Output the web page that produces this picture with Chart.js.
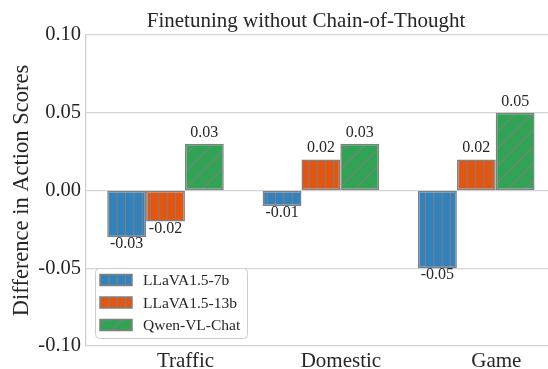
<!DOCTYPE html>
<html>
<head>
<meta charset="utf-8">
<script src="https://cdn.jsdelivr.net/npm/chart.js@4"></script>
<style>
  html, body { margin: 0; padding: 0; background: #ffffff; overflow: hidden; }
  canvas { display: block; }
</style>
</head>
<body>
<canvas id="chart" width="548" height="369"></canvas>
<script>
// Categories and per-model score differences
const categories = ['Traffic', 'Domestic', 'Game'];
const seriesNames = ['LLaVA1.5-7b', 'LLaVA1.5-13b', 'Qwen-VL-Chat'];
const llava7b = [-0.03, -0.01, -0.05];
const llava13b = [-0.02, 0.02, 0.02];
const qwenVlChat = [0.03, 0.03, 0.05];
const yTicks = [-0.10, -0.05, 0.00, 0.05, 0.10];

const SERIF = "'Liberation Serif', 'Times New Roman', serif";
const TEXT = '#262626';
const EDGE = '#808080';

Chart.defaults.font.family = SERIF;
Chart.defaults.color = TEXT;

// Hatched fills: vertical stripes and forward diagonals
function hatchVertical(color) {
  const s = 25;
  const c = document.createElement('canvas');
  c.width = s; c.height = s;
  const g = c.getContext('2d');
  g.fillStyle = color; g.fillRect(0, 0, s, s);
  g.strokeStyle = EDGE; g.lineWidth = 1.1;
  for (let k = 0; k < 3; k++) {
    const x = k * s / 3 + 0.5;
    g.beginPath(); g.moveTo(x, 0); g.lineTo(x, s); g.stroke();
  }
  return g.createPattern(c, 'repeat');
}
function hatchDiagonal(color) {
  const s = 17;
  const c = document.createElement('canvas');
  c.width = s; c.height = s;
  const g = c.getContext('2d');
  g.fillStyle = color; g.fillRect(0, 0, s, s);
  g.strokeStyle = EDGE; g.lineWidth = 1.1;
  for (const o of [-s, 0, s]) {
    g.beginPath(); g.moveTo(o, s); g.lineTo(o + s, 0); g.stroke();
  }
  return g.createPattern(c, 'repeat');
}

const fills = [hatchVertical('#3182bd'), hatchVertical('#e6550d'), hatchDiagonal('#31a354')];
const seriesValues = [llava7b, llava13b, qwenVlChat];

const datasets = seriesValues.map((vals, d) => ({
  label: seriesNames[d],
  data: vals.map((v, i) => ({ x: i, y: v })),
  backgroundColor: fills[d],
  borderColor: EDGE,
  borderWidth: 1.5,
  borderSkipped: false,
  categoryPercentage: 0.75,
  barPercentage: 1.0
}));

// Chart title drawn above the plot
const titlePlugin = {
  id: 'plotTitle',
  afterDraw(chart) {
    const ctx = chart.ctx;
    ctx.save();
    ctx.font = '21px ' + SERIF;
    ctx.fillStyle = TEXT;
    ctx.textAlign = 'center';
    ctx.textBaseline = 'alphabetic';
    ctx.fillText('Finetuning without Chain-of-Thought', 306, 27);
    ctx.restore();
  }
};

// Value labels above positive bars, below negative bars
const valueLabels = {
  id: 'valueLabels',
  afterDatasetsDraw(chart) {
    const ctx = chart.ctx;
    ctx.save();
    ctx.font = '16px ' + SERIF;
    ctx.fillStyle = TEXT;
    ctx.textAlign = 'center';
    chart.data.datasets.forEach((ds, d) => {
      chart.getDatasetMeta(d).data.forEach((bar, i) => {
        const v = ds.data[i].y;
        const txt = v.toFixed(2);
        if (v >= 0) {
          ctx.textBaseline = 'alphabetic';
          ctx.fillText(txt, bar.x, bar.y - 7);
        } else {
          ctx.textBaseline = 'top';
          ctx.fillText(txt, bar.x, bar.y - 1);
        }
      });
    });
    ctx.restore();
  }
};

// Framed legend in the lower-left corner of the plot
const boxLegend = {
  id: 'boxLegend',
  afterDraw(chart) {
    const ctx = chart.ctx;
    const a = chart.chartArea;
    const x0 = a.left + 9, y1 = a.bottom - 8;
    const w = 152, h = 70, y0 = y1 - h;
    ctx.save();
    ctx.beginPath();
    ctx.roundRect(x0 + 0.5, y0 + 0.5, w, h, 4);
    ctx.fillStyle = 'rgba(255,255,255,0.85)';
    ctx.fill();
    ctx.strokeStyle = '#cccccc';
    ctx.lineWidth = 1;
    ctx.stroke();
    ctx.font = '15.5px ' + SERIF;
    ctx.textAlign = 'left';
    ctx.textBaseline = 'middle';
    chart.data.datasets.forEach((ds, d) => {
      const cy = y0 + 12 + d * 22.5;
      ctx.fillStyle = ds.backgroundColor;
      ctx.fillRect(x0 + 5, cy - 5.5, 32, 11);
      ctx.strokeStyle = EDGE;
      ctx.lineWidth = 1.5;
      ctx.strokeRect(x0 + 5, cy - 5.5, 32, 11);
      ctx.fillStyle = TEXT;
      ctx.fillText(ds.label, x0 + 48, cy + 1);
    });
    ctx.restore();
  }
};

new Chart(document.getElementById('chart'), {
  type: 'bar',
  data: { datasets },
  options: {
    responsive: false,
    animation: false,
    layout: { padding: { top: 35, left: 0, right: 0, bottom: 0 } },
    plugins: { legend: { display: false }, tooltip: { enabled: false } },
    scales: {
      x: {
        type: 'linear',
        offset: false,
        min: -0.5116,
        max: 2.4614,
        grid: { display: false, drawTicks: false },
        border: { display: false },
        afterBuildTicks: (scale) => { scale.ticks = categories.map((_, i) => ({ value: i })); },
        afterFit: (scale) => { scale.height = 23; },
        ticks: {
          autoSkip: false,
          maxRotation: 0,
          padding: 3,
          labelOffset: 20,
          font: { size: 21 },
          color: TEXT,
          callback: (v) => categories[v]
        }
      },
      y: {
        min: -0.10,
        max: 0.10,
        afterBuildTicks: (scale) => { scale.ticks = yTicks.map(v => ({ value: v })); },
        afterFit: (scale) => { scale.width = 86; },
        grid: { color: '#d4d4d4', lineWidth: 1.2, drawTicks: false },
        border: { display: true, color: '#cccccc', width: 1.2 },
        ticks: {
          padding: 5,
          font: { size: 20.5 },
          color: TEXT,
          callback: (v) => Number(v).toFixed(2)
        },
        title: {
          display: true,
          text: 'Difference in Action Scores',
          font: { size: 22.5 },
          color: TEXT,
          padding: { top: 9, bottom: 0 }
        }
      }
    }
  },
  plugins: [titlePlugin, valueLabels, boxLegend]
});
</script>
</body>
</html>
